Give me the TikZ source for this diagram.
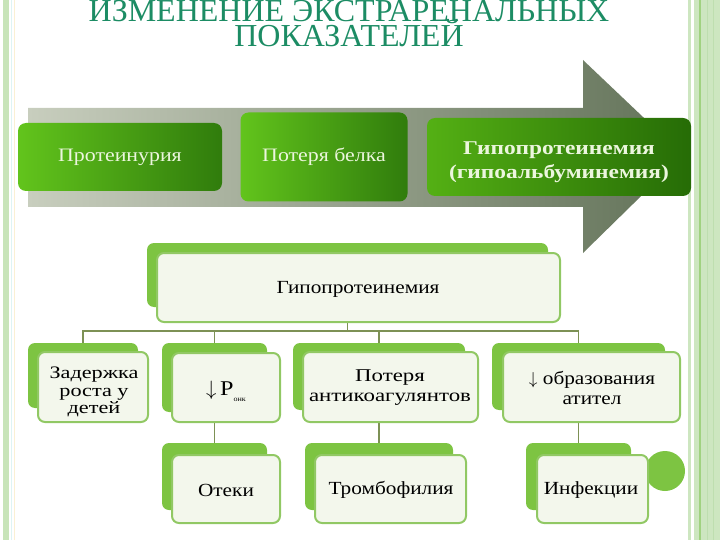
\documentclass[tikz,border=0pt]{standalone}
\usepackage{fontspec}
\setmainfont{Liberation Serif}
\newfontfamily\wide{Liberation Serif}[FakeStretch=1.15]
\newfontfamily\wider{Liberation Serif}[FakeStretch=1.27]
\newfontfamily\widebold{Liberation Serif Bold}[FakeStretch=1.2]
\definecolor{titlegreen}{RGB}{28,140,100}
\definecolor{tabgreen}{RGB}{125,196,66}
\definecolor{edgegreen}{RGB}{145,200,100}
\definecolor{boxfill}{RGB}{243,247,236}
\definecolor{linkgreen}{RGB}{125,145,85}
\definecolor{arrowlight}{RGB}{200,206,190}
\definecolor{arrowdark}{RGB}{98,114,88}
\definecolor{gA}{RGB}{98,196,28}
\definecolor{gB}{RGB}{48,124,12}
\definecolor{gC}{RGB}{84,176,20}
\definecolor{gD}{RGB}{38,108,6}
\definecolor{toptext}{RGB}{236,246,222}
\definecolor{stripe}{RGB}{200,228,185}
\definecolor{stripeR}{RGB}{205,230,192}
\definecolor{stripeD}{RGB}{160,210,128}
\definecolor{stripeL}{RGB}{190,222,175}
\tikzset{
  titletext/.style={font=\fontsize{32}{34}\selectfont, text=titlegreen, inner sep=0pt,
    anchor=base, text height=21pt, text depth=0pt},
  topbox/.style={rounded corners=8pt, inner sep=2pt, text=toptext, align=center,
    font=\wide\fontsize{19}{23}\selectfont},
  backtab/.style={rounded corners=7pt, fill=tabgreen, inner sep=0pt},
  frontbox/.style={rounded corners=7pt, fill=boxfill, draw=edgegreen, line width=2pt, inner sep=0pt},
  boxtext/.style={inner sep=0pt, align=center, font=\wide\fontsize{18.5}{20}\selectfont},
  link/.style={draw=linkgreen, line width=1.5pt}
}
\begin{document}
\begin{tikzpicture}[x=1pt,y=-1pt]
\useasboundingbox (0,0) rectangle (720,540);
% page borders
\fill[stripe] (3,0) rectangle (9,540);
\draw[color={rgb,255:red,222;green,244;blue,244}, line width=1pt] (11,0) -- (11,540);
\draw[color={rgb,255:red,250;green,240;blue,212}, line width=1pt] (14,0) -- (14,540);
\fill[stripeR] (688,0) rectangle (720,540);
\fill[white] (691,0) rectangle (694,540);
\fill[stripeD] (699,0) rectangle (701,540);
\draw[stripeL, line width=1pt] (707,0) -- (707,540);
\draw[stripeL, line width=1pt] (713,0) -- (713,540);
% title
\node[titletext] (t1) at (349,22) {ИЗМЕНЕНИЕ ЭКСТРАРЕНАЛЬНЫХ};
\node[titletext] (t2) at (349,47) {ПОКАЗАТЕЛЕЙ};
% big arrow
\shade[left color=arrowlight, right color=arrowdark]
  (28,108) -- (583,108) -- (583,60) -- (683,155) -- (583,253) -- (583,207) -- (28,207) -- cycle;
% boxes on the arrow
\node[topbox, left color=gA, right color=gB, minimum width=204pt, minimum height=68pt] (p1) at (120,157) {Протеинурия};
\node[topbox, left color=gA, right color=gB, minimum width=167pt, minimum height=89pt] (p2) at (324,157) {Потеря белка};
\node[topbox, left color=gC, right color=gD, minimum width=264pt, minimum height=78pt,
  font=\widebold\fontsize{19.5}{24}\selectfont] (p3) at (559,157) {};
\node[inner sep=0pt, align=center, text=toptext, font=\widebold\fontsize{19.5}{24}\selectfont] (p3t) at (559,162) {Гипопротеинемия\\(гипоальбуминемия)};
% back tabs
\node[backtab, minimum width=401pt, minimum height=64pt] (bigb) at (347.5,275) {};
\node[backtab, minimum width=110pt, minimum height=65pt] (c1b) at (83,375.5) {};
\node[backtab, minimum width=105pt, minimum height=69pt] (c2b) at (214.5,377.5) {};
\node[backtab, minimum width=172pt, minimum height=67pt] (c3b) at (379,376.5) {};
\node[backtab, minimum width=173pt, minimum height=67pt] (c4b) at (578.5,376.5) {};
\node[backtab, minimum width=105pt, minimum height=67pt] (r1b) at (214.5,476.5) {};
\node[backtab, minimum width=148pt, minimum height=67pt] (r2b) at (379,476.5) {};
\node[backtab, minimum width=105pt, minimum height=67pt] (r3b) at (578.5,476.5) {};
\node[circle, fill=tabgreen, minimum size=40pt, inner sep=0pt] (dot) at (665,471) {};
% connectors
\draw[link] (bigb.south) -- ++(0,24) -| (c1b.north);
\draw[link] (bigb.south) -- ++(0,24) -| (c2b.north);
\draw[link] (bigb.south) -- ++(0,24) -| (c3b.north);
\draw[link] (bigb.south) -- ++(0,24) -| (c4b.north);
\draw[link] (c2b.south) -- (r1b.north);
\draw[link] (c3b.south) -- (r2b.north);
\draw[link] (c4b.south) -- (r3b.north);
% front boxes
\node[frontbox, minimum width=403pt, minimum height=69pt] (bigf) at (358.5,287.5) {};
\node[frontbox, minimum width=110pt, minimum height=70pt] (c1f) at (93,387) {};
\node[frontbox, minimum width=108pt, minimum height=69pt] (c2f) at (226,387.5) {};
\node[frontbox, minimum width=175pt, minimum height=70pt] (c3f) at (390.5,387) {};
\node[frontbox, minimum width=177pt, minimum height=70pt] (c4f) at (591.5,387) {};
\node[frontbox, minimum width=108pt, minimum height=68pt] (r1f) at (226,489) {};
\node[frontbox, minimum width=151pt, minimum height=68pt] (r2f) at (390.5,489) {};
\node[frontbox, minimum width=111pt, minimum height=68pt] (r3f) at (592.5,489) {};
% texts
\node[boxtext] (bigt) at (358,289) {Гипопротеинемия};
\node[boxtext, font=\wider\fontsize{17.5}{17.5}\selectfont] (c1t) at (94,392) {Задержка\\роста у\\детей};
\node[boxtext, font=\wide\fontsize{21}{22}\selectfont] (c2t) at (226,391) {$\downarrow$\,P\raisebox{-0.6ex}{\fontsize{7}{8}\selectfont онк}};
\node[boxtext, font=\wider\fontsize{18}{20}\selectfont] (c3t) at (390,388) {Потеря\\антикоагулянтов};
\node[boxtext] (c4t) at (592,388) {$\downarrow$ образования\\атител};
\node[boxtext] (r1t) at (226,490) {Отеки};
\node[boxtext] (r2t) at (391,490) {Тромбофилия};
\node[boxtext] (r3t) at (591,490) {Инфекции};
\end{tikzpicture}
\end{document}
